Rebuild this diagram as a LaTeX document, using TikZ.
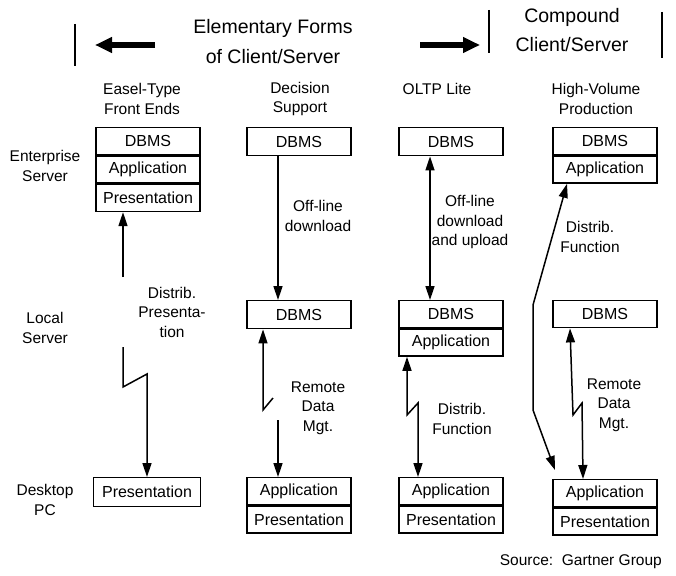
\documentclass[tikz,border=0pt]{standalone}
\usepackage{fontspec}
\setmainfont{Liberation Sans}
\usetikzlibrary{arrows.meta}
\begin{document}
\begin{tikzpicture}[x=1pt,y=-1pt,
  txt/.style={font=\fontsize{15.5}{19.5}\selectfont, align=center, inner sep=0pt},
  hdr/.style={font=\fontsize{19.5}{24}\selectfont, align=center, inner sep=0pt},
  cell/.style={draw, line width=1.4pt, minimum width=104pt, minimum height=27pt, inner sep=0pt,
               font=\fontsize{16}{18}\selectfont, anchor=north},
  conn/.style={line width=1.5pt, line join=miter},
  tip/.tip={Triangle[length=14pt,width=9pt]},
  bar/.style={line width=2.6pt},
  blk/.style={line width=5.5pt, -{Triangle[length=17pt,width=15pt]}}
]
\useasboundingbox (0,0) rectangle (676,575);

% header
\coordinate (lb1) at (75,24); \coordinate (lb2) at (75,66);
\draw[bar] (lb1) -- (lb2);
\coordinate (la1) at (155,45); \coordinate (la2) at (95,45);
\draw[blk] (la1) -- (la2);
\node[hdr] (h1) at (273,28) {Elementary Forms};
\node[hdr] (h2) at (273,57) {of Client/Server};
\coordinate (ra1) at (420,45); \coordinate (ra2) at (480,45);
\draw[blk] (ra1) -- (ra2);
\coordinate (mb1) at (489,10); \coordinate (mb2) at (489,53);
\draw[bar] (mb1) -- (mb2);
\node[hdr] (h3) at (572,17) {Compound};
\node[hdr] (h4) at (572,45) {Client/Server};
\coordinate (rb1) at (662,12); \coordinate (rb2) at (662,58);
\draw[bar] (rb1) -- (rb2);

% column titles
\node[txt] (t1) at (142,99) {Easel-Type\\Front Ends};
\node[txt] (t2) at (300,99) {Decision\\Support};
\node[txt] (t3) at (437,89) {OLTP Lite};
\node[txt] (t4) at (596,99) {High-Volume\\Production};

% row labels
\node[txt] (r1) at (45,166) {Enterprise\\Server};
\node[txt] (r2) at (45,328) {Local\\Server};
\node[txt] (r3) at (45,500) {Desktop\\PC};

% column 1
\node[cell] (e1a) at (148,127) {DBMS};
\node[cell] (e1b) at (e1a.south) {Application};
\node[cell] (e1c) at (e1b.south) {Presentation};
\node[cell, minimum width=107pt, minimum height=29pt] (d1) at (147,477) {Presentation};

% column 2
\node[cell, minimum height=28pt] (e2) at (299,127) {DBMS};
\node[cell, minimum height=28pt] (l2) at (299,300) {DBMS};
\node[cell] (d2a) at (299,477) {Application};
\node[cell] (d2b) at (d2a.south) {Presentation};

% column 3
\node[cell, minimum height=28pt] (e3) at (451,127) {DBMS};
\node[cell] (l3a) at (451,300) {DBMS};
\node[cell] (l3b) at (l3a.south) {Application};
\node[cell] (d3a) at (451,477) {Application};
\node[cell] (d3b) at (d3a.south) {Presentation};

% column 4
\node[cell] (e4a) at (605,127) {DBMS};
\node[cell] (e4b) at (e4a.south) {Application};
\node[cell] (l4) at (605,300) {DBMS};
\node[cell] (d4a) at (605,479) {Application};
\node[cell] (d4b) at (d4a.south) {Presentation};

% column 1 connectors
\coordinate (c1a) at (123,277);
\draw[conn,-tip] (c1a) -- (e1c.south -| c1a);
\coordinate (c1b) at (123,347);
\draw[conn,-tip] (c1b) -- (123,387) -- (147,374) -- (d1.north);
\node[txt] (lab1) at (172,312) {Distrib.\\Presenta-\\tion};

% column 2 connectors
\coordinate (c2x) at (278,0);
\draw[conn,-tip] (e2.south -| c2x) -- (l2.north -| c2x);
\node[txt] (lab2) at (318,216) {Off-line\\download};
\coordinate (c2y) at (263,0);
\draw[conn,tip-] (l2.south -| c2y) -- (263,410) -- (273,398);
\coordinate (c2b) at (278,420);
\draw[conn,-tip] (c2b) -- (d2a.north -| c2b);
\node[txt] (lab3) at (318,408) {Remote\\Data\\Mgt.};

% column 3 connectors
\coordinate (c3x) at (430,0);
\draw[conn,tip-tip] (e3.south -| c3x) -- (l3a.north -| c3x);
\node[txt] (lab4) at (470,222) {Off-line\\download\\and upload};
\coordinate (c3y) at (407,0);
\draw[conn,tip-tip] (l3b.south -| c3y) -- (407,415) -- (418,403) -- (d3a.north -| 418,0);
\node[txt] (lab5) at (462,419) {Distrib.\\Function};

% column 4 connectors
\coordinate (c4x) at (567,0);
\coordinate (c4end) at (555,470);
\draw[conn,tip-tip] (e4b.south -| c4x) -- (533,305) -- (533,410) -- (c4end);
\node[txt] (lab6) at (590,237) {Distrib.\\Function};
\coordinate (c4y) at (570,0);
\draw[conn,tip-tip] (l4.south -| c4y) -- (573,415) -- (582,403) -- (d4a.north -| 583,0);
\node[txt] (lab7) at (614,405) {Remote\\Data\\Mgt.};

% source
\node[txt, anchor=east] (src) at (662,562) {Source:\ \ Gartner Group};
\end{tikzpicture}
\end{document}
